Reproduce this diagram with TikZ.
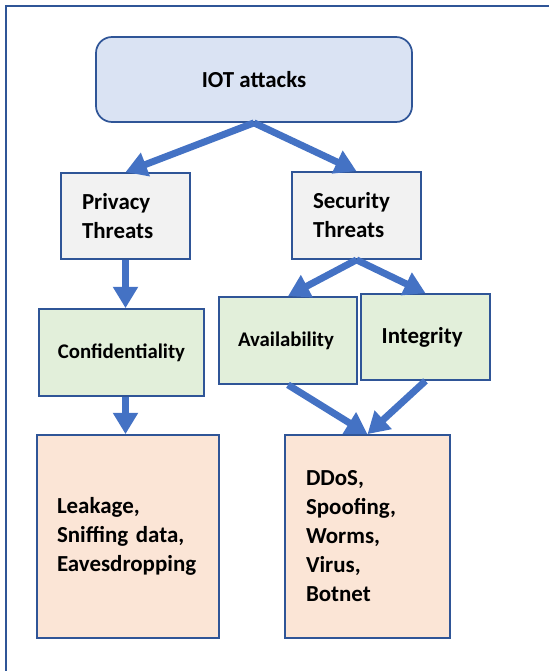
\documentclass[tikz,border=0pt]{standalone}
\usepackage{fontspec}
\setmainfont{Carlito}
\usetikzlibrary{arrows.meta}
\definecolor{edgeblue}{HTML}{2F5597}
\definecolor{arrowblue}{HTML}{4472C4}
\definecolor{topfill}{HTML}{DAE3F3}
\definecolor{greyfill}{HTML}{F2F2F2}
\definecolor{greenfill}{HTML}{E2EFDA}
\definecolor{peachfill}{HTML}{FBE5D6}
\begin{document}
\begin{tikzpicture}[x=0.75pt,y=-0.75pt,
  box/.style={draw=edgeblue,line width=1.3pt,inner sep=0pt,font=\fontsize{17.2}{21.75}\selectfont\bfseries},
  smalltext/.style={font=\fontsize{15.6}{20}\selectfont\bfseries},
  flow/.style={draw=arrowblue,line width=5.2pt,-{Triangle[width=18pt,length=16pt]}}]
\useasboundingbox (0,0) rectangle (549,671);
% outer frame
\draw[edgeblue,line width=1.5pt] (5.5,5.5) rectangle (560,690);

% boxes
\node[box,fill=topfill,rounded corners=12pt,minimum width=316*0.75pt,minimum height=85*0.75pt] (iot) at (254,79.5) {IOT attacks};
\node[box,fill=greyfill,minimum width=129*0.75pt,minimum height=86*0.75pt,text width=87*0.75pt,align=left] (priv) at (125.5,216) {Privacy\\Threats};
\node[box,fill=greyfill,minimum width=129*0.75pt,minimum height=87*0.75pt,text width=87*0.75pt,align=left] (sec) at (356.5,215.5) {Security\\Threats};
\node[box,smalltext,fill=greenfill,minimum width=165*0.75pt,minimum height=87*0.75pt] (conf) at (121.5,352.5) {Confidentiality};
\node[box,smalltext,fill=greenfill,minimum width=138*0.75pt,minimum height=87*0.75pt] (avail) at (288,340.5) {\hspace*{-3pt}Availability};
\node[box,fill=greenfill,minimum width=129*0.75pt,minimum height=86*0.75pt] (integ) at (425.5,337) {\hspace*{-5pt}Integrity};
\node[box,fill=peachfill,minimum width=182*0.75pt,minimum height=203*0.75pt,text width=142*0.75pt,align=left] (leak) at (128,536.5) {Leakage,\\Sniffing data,\\Eavesdropping};
\node[box,fill=peachfill,minimum width=165*0.75pt,minimum height=203*0.75pt,text width=123*0.75pt,align=left] (ddos) at (367.5,536.5) {DDoS,\\Spoofing,\\Worms,\\Virus,\\Botnet};

% connectors
\draw[flow] (iot.south) -- (priv.north);
\draw[flow] (iot.south) -- (sec.north);
\draw[flow] (priv.south) -- (priv.south |- conf.north);
\draw[flow] (conf.south -| priv.south) -- (leak.north -| priv.south);
\draw[flow] (sec.south) -- (avail.north);
\draw[flow] (sec.south) -- (integ.north);
\draw[flow] (avail.south) -- (ddos.north);
\draw[flow] (integ.south) -- (ddos.north);
\end{tikzpicture}
\end{document}
